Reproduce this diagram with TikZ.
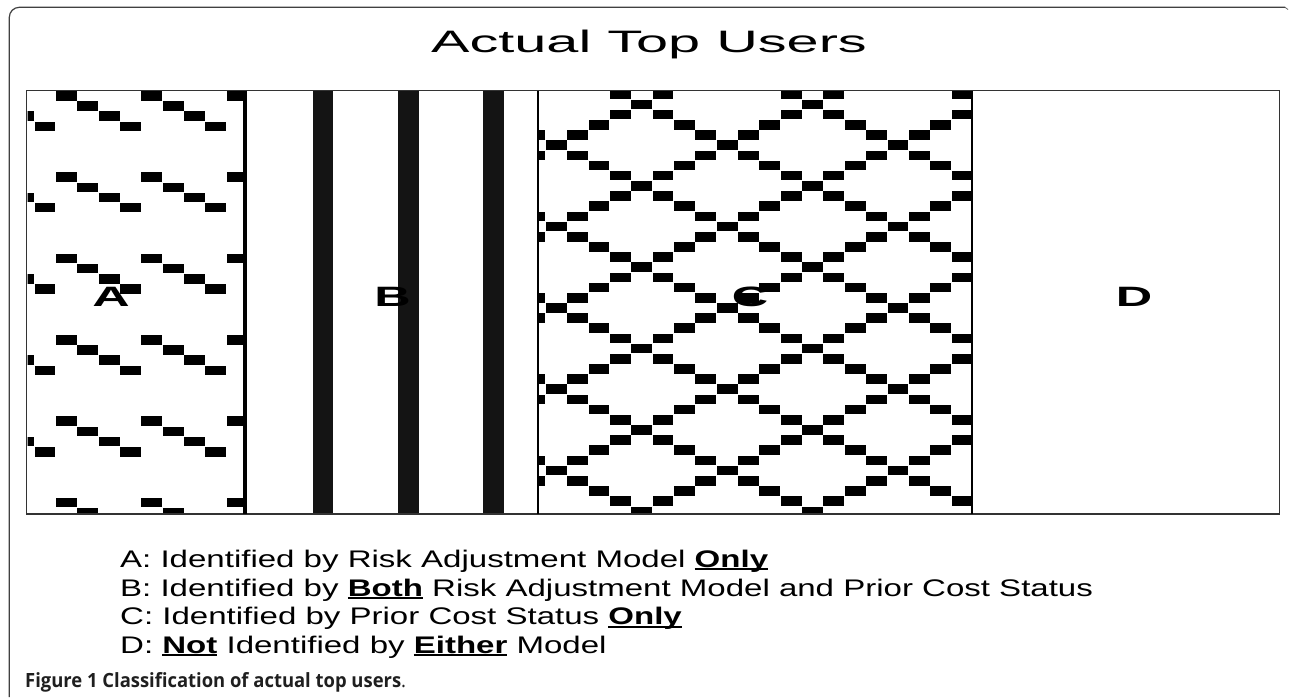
\documentclass[tikz,border=0pt]{standalone}
\usepackage{fontspec}
\setmainfont{Liberation Sans}
\newfontfamily\capfont{Open Sans}
\newsavebox{\ulbox}
\newcommand{\ulb}[1]{\sbox{\ulbox}{\bfseries #1}\rlap{\rule[-3.2pt]{\wd\ulbox}{1.8pt}}\usebox{\ulbox}}
\tikzset{
  blk/.style={fill=black},
  letter/.style={anchor=base, inner sep=0pt, font=\fontsize{28}{30}\selectfont\bfseries},
  legend/.style={anchor=base west, inner sep=0pt, font=\fontsize{24}{28}\selectfont},
}
\begin{document}
\begin{tikzpicture}[x=1pt,y=-1pt]
\useasboundingbox (0,0) rectangle (1290,698);
\fill[white] (0,0) rectangle (1290,698);
% outer frame (top and left only)
\draw[black!75, line width=1.2pt, rounded corners=10pt] (9.3,697) -- (9.3,7.3) -- (1285,7.3);
\draw[black!60, line width=0.8pt] (1285,7.3) -- (1288,9.5);
% title
\node[anchor=base, inner sep=0pt, font=\fontsize{31}{36}\selectfont] (title) at (649,53) {\scalebox{1.86}[1]{Actual Top Users}};
% region A pattern
\begin{scope}
\clip (27.5,91.5) rectangle (243,513.5);
\foreach \k in {-1,...,2}{\foreach \m in {0,...,5}{\foreach \j in {0,...,3}{
  \fill[blk] ({56+85.4*\k+21.35*\j},{91+81.36*\m+10.17*\j}) rectangle ++(20.8,9.6);
}}}
\end{scope}
% region B stripes
\fill[black!92] (312.7,91) rectangle (333.3,514);
\fill[black!92] (398.3,91) rectangle (419.3,514);
\fill[black!92] (483.3,91) rectangle (504.3,514);
% region C lattice
\begin{scope}
\clip (538.5,91.5) rectangle (971,513.5);
\foreach \i in {-6,...,7}{\foreach \n in {-2,...,41}{
  \fill[blk] ({641.7+170.8*\i+21.35*\n-10.4},{104.5+10.17*\n-4.8}) rectangle ++(20.8,9.6);
  \fill[blk] ({641.7+170.8*\i-21.35*\n-10.4},{104.5+10.17*\n-4.8}) rectangle ++(20.8,9.6);
}}
\end{scope}
% box and separators
\draw[black!80, line width=1.5pt] (26.5,90.7) rectangle (1279.3,514);
\draw[black, line width=4pt] (244.7,90.7) -- (244.7,514);
\draw[black, line width=2.2pt] (537.8,90.7) -- (537.8,514);
\draw[black, line width=1.8pt] (971.7,90.7) -- (971.7,514);
% letters
\node[letter] (la) at (111,306.5) {\scalebox{1.85}[1]{A}};
\node[letter] (lb) at (392.5,306.5) {\scalebox{1.8}[1]{B}};
\node[letter] (lc) at (750,306.5) {\scalebox{1.8}[1]{C}};
\node[letter] (ld) at (1134,306.5) {\scalebox{1.8}[1]{D}};
% legend
\node[legend] (ga) at (120,567) {\scalebox{1.376}[1]{A: Identified by Risk Adjustment Model \ulb{Only}}};
\node[legend] (gb) at (120,596) {\scalebox{1.376}[1]{B: Identified by \ulb{Both} Risk Adjustment Model and Prior Cost Status}};
\node[legend] (gc) at (120,624.5) {\scalebox{1.376}[1]{C: Identified by Prior Cost Status \ulb{Only}}};
\node[legend] (gd) at (120,653) {\scalebox{1.376}[1]{D: \ulb{Not} Identified by \ulb{Either} Model}};
% caption
\node[anchor=base west, inner sep=0pt, text=black!88, font=\capfont\fontsize{19.6}{22}\selectfont] (cap) at (25,687)
  {\scalebox{0.94}[1]{\bfseries Figure 1 Classification of actual top users{\mdseries .}}};
\end{tikzpicture}
\end{document}
